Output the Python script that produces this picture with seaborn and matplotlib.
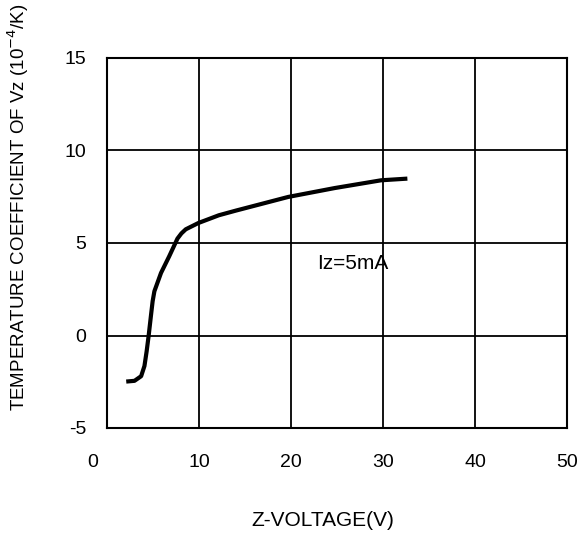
import matplotlib
matplotlib.use("Agg")
import matplotlib.pyplot as plt
import matplotlib.transforms as mtransforms
import pandas as pd
import seaborn as sns

# curve (Iz = 5 mA)
z_voltage = [2.09, 2.99, 3.71, 4.07, 4.31, 4.53, 4.79, 4.96, 5.15, 5.87, 6.76, 7.66, 8.09, 8.56,
             9.93, 12.16, 14.0, 19.7, 24.75, 29.8, 32.65]
temp_coef = [-2.49, -2.45, -2.2, -1.65, -0.85, 0.0, 1.13, 1.85, 2.39, 3.38, 4.28, 5.24, 5.52, 5.74,
             6.08, 6.50, 6.75, 7.49, 7.97, 8.39, 8.48]

x_ticks = [0, 10, 20, 30, 40, 50]
y_ticks = [-5, 0, 5, 10, 15]

df = pd.DataFrame({"vz": z_voltage, "tc": temp_coef})

sns.set_style("white")
plt.rcParams["font.family"] = ["Liberation Sans", "DejaVu Sans"]
plt.rcParams["axes.unicode_minus"] = False
plt.rcParams["text.color"] = "black"

fig = plt.figure(figsize=(5.79, 5.36), dpi=100)
ax = fig.add_axes([107 / 579, 1 - 428 / 536, 460 / 579, 370 / 536])

sns.lineplot(data=df, x="vz", y="tc", ax=ax, color="black", linewidth=3, sort=False,
             solid_joinstyle="round", solid_capstyle="butt")

ax.set_xlim(0, 50)
ax.set_ylim(-5, 15)
ax.set_xticks(x_ticks)
ax.set_yticks(y_ticks)
ax.grid(True, color="black", linewidth=1.3)
ax.tick_params(axis="both", length=0, labelsize=14, colors="black")
ax.tick_params(axis="x", pad=19)
ax.tick_params(axis="y", pad=15)
for s in ax.spines.values():
    s.set_color("black")
    s.set_linewidth(1.5)
ax.set_xlabel("")
ax.set_ylabel("")

# the "0" label sits a bit left of the axis corner in the original
lbl0 = ax.get_xticklabels()[0]
lbl0.set_transform(lbl0.get_transform() + mtransforms.ScaledTranslation(-0.14, 0, fig.dpi_scale_trans))

ax.text(22.8, 3.9, "Iz=5mA", fontsize=15, va="center", ha="left", color="black")

fig.text(323 / 579, 1 - 521 / 536, "Z-VOLTAGE(V)", fontsize=15, ha="center", va="center", color="black")
fig.text(18 / 579, 1 - 207 / 536, "TEMPERATURE COEFFICIENT OF Vz (10$^{-4}$/K)",
         fontsize=13.5, rotation=90, ha="center", va="center", color="black")

fig.savefig("out.png", dpi=100)
